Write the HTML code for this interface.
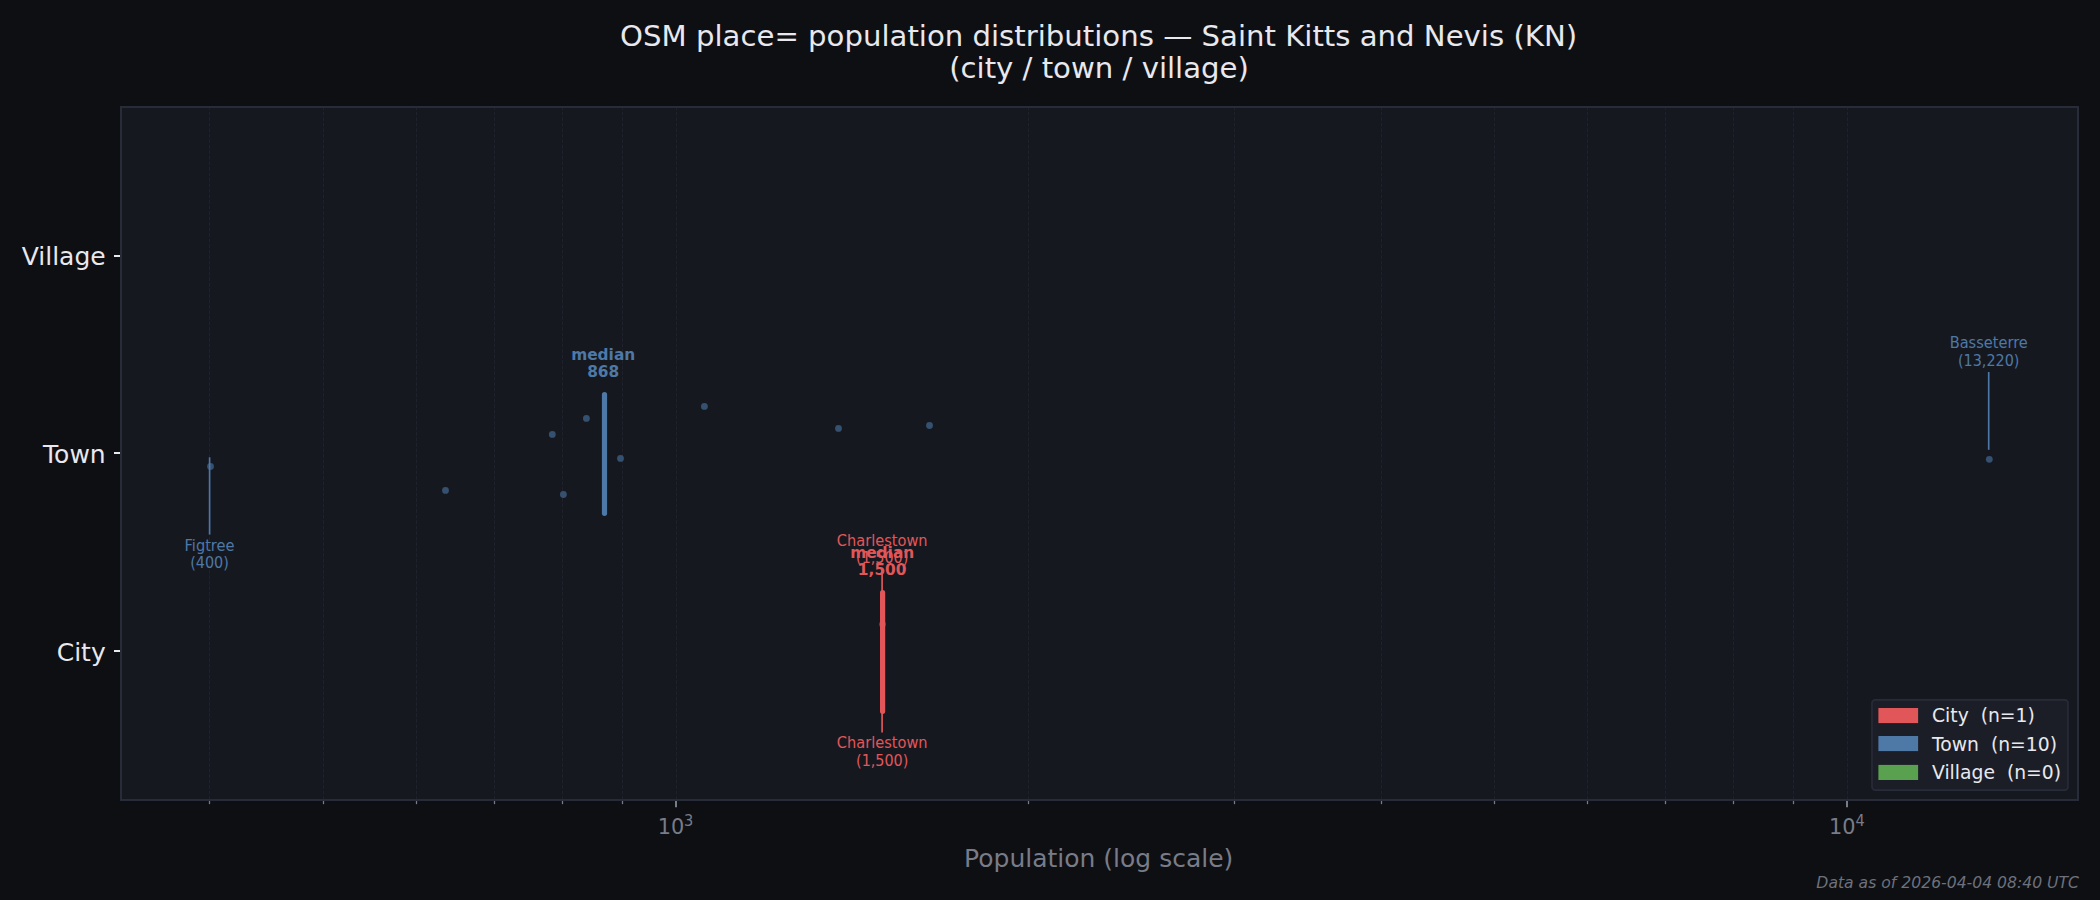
<!DOCTYPE html>
<html lang="en"><head><meta charset="utf-8"><title>OSM place= population distributions — Saint Kitts and Nevis (KN)</title>
<style>html,body{margin:0;padding:0;background:#0e0f13;}body{width:2100px;height:900px;overflow:hidden;}svg{display:block;}text{white-space:pre;}</style>
</head><body>
<svg width="2100" height="900" viewBox="0 0 2100 900" font-family="DejaVu Sans, Liberation Sans, sans-serif">
<rect x="0" y="0" width="2100" height="900" fill="#0e0f13"/>
<rect x="121.0" y="107.0" width="1957.0" height="693.0" fill="#161820"/>
<g stroke="#1f212b" stroke-width="1.04" stroke-dasharray="3.85 1.67" fill="none">
<path d="M209.5 800.0V107.0"/>
<path d="M323.5 800.0V107.0"/>
<path d="M416.5 800.0V107.0"/>
<path d="M494.5 800.0V107.0"/>
<path d="M562.5 800.0V107.0"/>
<path d="M622.5 800.0V107.0"/>
<path d="M676.5 800.0V107.0"/>
<path d="M1028.5 800.0V107.0"/>
<path d="M1234.5 800.0V107.0"/>
<path d="M1381.5 800.0V107.0"/>
<path d="M1494.5 800.0V107.0"/>
<path d="M1587.5 800.0V107.0"/>
<path d="M1665.5 800.0V107.0"/>
<path d="M1733.5 800.0V107.0"/>
<path d="M1793.5 800.0V107.0"/>
<path d="M1847.5 800.0V107.0"/>
</g>
<g fill="#36506f">
<circle cx="210.5" cy="466.4" r="3.4"/>
<circle cx="445.5" cy="490.4" r="3.4"/>
<circle cx="552.3" cy="434.4" r="3.4"/>
<circle cx="563.4" cy="494.5" r="3.4"/>
<circle cx="586.4" cy="418.4" r="3.4"/>
<circle cx="620.5" cy="458.4" r="3.4"/>
<circle cx="704.4" cy="406.4" r="3.4"/>
<circle cx="838.5" cy="428.4" r="3.4"/>
<circle cx="929.5" cy="425.5" r="3.4"/>
<circle cx="1989.3" cy="459.3" r="3.4"/>
</g>
<circle cx="882.5" cy="624.3" r="3.4" fill="#80383f"/>
<path d="M604.5 394.7V513.3" stroke="#4e79a7" stroke-width="5.2" stroke-linecap="round"/>
<path d="M882.6 592.7V711.3" stroke="#e15759" stroke-width="5.2" stroke-linecap="round"/>
<g stroke-width="1.67" fill="none">
<path d="M209.6 457.3V534.6" stroke="#4e79a7"/>
<path d="M1988.7 372V449.8" stroke="#4e79a7"/>
<path d="M882.1 570V647.8" stroke="#e15759"/>
<path d="M882.1 656.2V732.4" stroke="#e15759"/>
</g>
<g font-size="15.63px" fill="#4e79a7" text-anchor="middle"><text transform="translate(209.5,550.7) scale(0.933,1)">Figtree</text><text transform="translate(209.5,568.2) scale(0.92,1)">(400)</text></g>
<g font-size="15.63px" fill="#4e79a7" text-anchor="middle"><text transform="translate(1988.7,348.0) scale(0.933,1)">Basseterre</text><text transform="translate(1988.7,365.7) scale(0.92,1)">(13,220)</text></g>
<g font-size="15.4px" fill="#4e79a7" text-anchor="middle" font-weight="bold"><text x="603.2" y="359.7">median</text><text x="603.2" y="377.0">868</text></g>
<g font-size="15.63px" fill="#e15759" text-anchor="middle"><text transform="translate(882.2,545.7) scale(0.933,1)">Charlestown</text><text transform="translate(882.2,563.4) scale(0.92,1)">(1,500)</text></g>
<g font-size="15.4px" fill="#e15759" text-anchor="middle" font-weight="bold"><text x="882.2" y="557.9">median</text><text x="882.2" y="574.9">1,500</text></g>
<g font-size="15.63px" fill="#e15759" text-anchor="middle"><text transform="translate(882.2,748.0) scale(0.933,1)">Charlestown</text><text transform="translate(882.2,765.7) scale(0.92,1)">(1,500)</text></g>
<g stroke="#787c88" fill="none">
<path d="M209.5 800.0v4.17" stroke-width="1.25"/>
<path d="M323.5 800.0v4.17" stroke-width="1.25"/>
<path d="M416.5 800.0v4.17" stroke-width="1.25"/>
<path d="M494.5 800.0v4.17" stroke-width="1.25"/>
<path d="M562.5 800.0v4.17" stroke-width="1.25"/>
<path d="M622.5 800.0v4.17" stroke-width="1.25"/>
<path d="M676 800.0v7.3" stroke-width="2"/>
<path d="M1028.5 800.0v4.17" stroke-width="1.25"/>
<path d="M1234.5 800.0v4.17" stroke-width="1.25"/>
<path d="M1381.5 800.0v4.17" stroke-width="1.25"/>
<path d="M1494.5 800.0v4.17" stroke-width="1.25"/>
<path d="M1587.5 800.0v4.17" stroke-width="1.25"/>
<path d="M1665.5 800.0v4.17" stroke-width="1.25"/>
<path d="M1733.5 800.0v4.17" stroke-width="1.25"/>
<path d="M1793.5 800.0v4.17" stroke-width="1.25"/>
<path d="M1847 800.0v7.3" stroke-width="2"/>
</g>
<g stroke="#e8e8ee" stroke-width="2" fill="none">
<path d="M121.0 256h-7"/>
<path d="M121.0 453h-7"/>
<path d="M121.0 651h-7"/>
</g>
<rect x="121.0" y="107.0" width="1957.0" height="693.0" fill="none" stroke="#282b38" stroke-width="2"/>
<g font-size="25px" fill="#e8e8ee" text-anchor="end">
<text x="105.7" y="265.0">Village</text>
<text x="105.7" y="463.0">Town</text>
<text x="105.7" y="661.0">City</text>
</g>
<g font-size="20.83px" fill="#787c88">
<text x="657.7" y="834.3">10</text><text transform="translate(684.0,825.9) scale(0.933,1)" font-size="15.63px">3</text>
<text x="1829.1" y="834.3">10</text><text transform="translate(1855.4,825.9) scale(0.933,1)" font-size="15.63px">4</text>
</g>
<text x="1098.7" y="866.5" font-size="25px" fill="#787c88" text-anchor="middle">Population (log scale)</text>
<g font-size="29.17px" fill="#e8e8ee" text-anchor="middle"><text x="1098.6" y="46">OSM place= population distributions — Saint Kitts and Nevis (KN)</text><text x="1099.0" y="78">(city / town / village)</text></g>
<text x="2079" y="887.8" font-size="15.63px" font-style="oblique" fill="#6d717d" text-anchor="end">Data as of 2026-04-04 08:40 UTC</text>
<rect x="1872" y="699.8" width="196" height="90.4" rx="3.3" fill="#1c1e27" stroke="#282b38" stroke-width="1.67"/>
<rect x="1878.4" y="708.00" width="39.7" height="15.1" fill="#e15759"/>
<text x="1932" y="722.0" font-size="18.75px" fill="#e8e8ee">City  (n=1)</text>
<rect x="1878.4" y="736.00" width="39.7" height="15.1" fill="#4e79a7"/>
<text x="1932" y="750.6" font-size="18.75px" fill="#e8e8ee">Town  (n=10)</text>
<rect x="1878.4" y="764.90" width="39.7" height="15.1" fill="#59a14f"/>
<text x="1932" y="779.2" font-size="18.75px" fill="#e8e8ee">Village  (n=0)</text>
</svg>
</body></html>
